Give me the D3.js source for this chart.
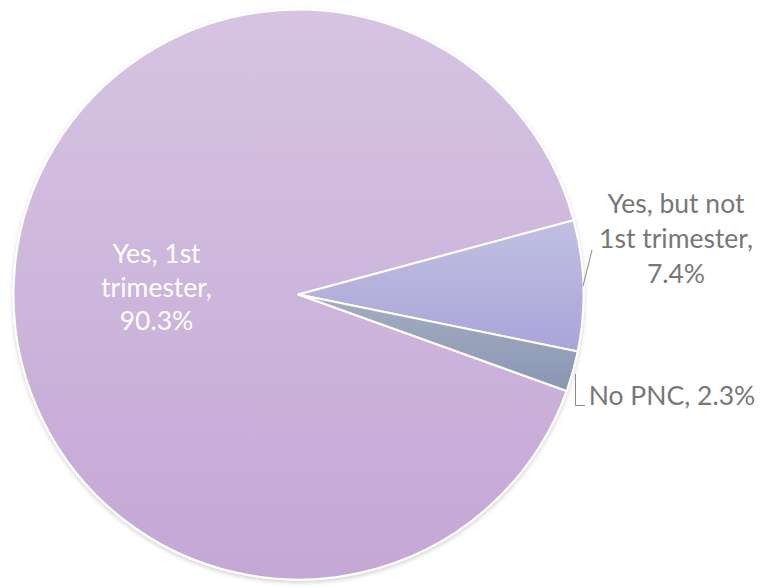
<!DOCTYPE html>
<html><head><meta charset="utf-8">
<script src="https://cdn.jsdelivr.net/npm/d3@7/dist/d3.min.js"></script>
<style>body{margin:0;background:#fff;}svg{display:block;}</style>
</head><body>
<svg id="chart" width="760" height="588"></svg>
<script>
const categories = ["Yes, 1st trimester", "Yes, but not 1st trimester", "No PNC"];
const values = [90.3, 7.4, 2.3];
const labelLines = [["Yes, 1st", "trimester,", "90.3%"], ["Yes, but not", "1st trimester,", "7.4%"], ["No PNC, 2.3%"]];
const colorsTop = ["#d6c4e2", "#c0c0e2", "#a4adc1"];
const colorsBottom = ["#c4a7d5", "#aaa4d9", "#8a96b3"];

const svg = d3.select("#chart");
const cx = 298.5, cy = 294.5, r = 285;
const start = 109.8 * Math.PI / 180;

const defs = svg.append("defs");
colorsTop.forEach((c, i) => {
  const g = defs.append("linearGradient").attr("id", "g" + i).attr("x1", 0).attr("y1", 0).attr("x2", 0).attr("y2", 1);
  g.append("stop").attr("offset", "0%").attr("stop-color", c);
  g.append("stop").attr("offset", "100%").attr("stop-color", colorsBottom[i]);
});
const f = defs.append("filter").attr("id", "sh").attr("x", "-10%").attr("y", "-10%").attr("width", "120%").attr("height", "120%");
f.append("feDropShadow").attr("dx", 0).attr("dy", 2).attr("stdDeviation", 2).attr("flood-color", "#000").attr("flood-opacity", 0.18);

const pie = d3.pie().sort(null).value(d => d).startAngle(start).endAngle(start + 2 * Math.PI);
const arcs = pie(values);
const arc = d3.arc().innerRadius(0).outerRadius(r);

const g = svg.append("g").attr("transform", `translate(${cx},${cy})`);
g.append("g").attr("filter", "url(#sh)").selectAll("path").data(arcs).join("path")
  .attr("d", arc).attr("fill", (d, i) => `url(#g${i})`)
  .attr("stroke", "#fff").attr("stroke-width", 2).attr("stroke-linejoin", "round");

// labels
const font = "Lato, 'Open Sans', sans-serif";
const fs = 26.5;
const labelPos = [[156.5, 263, 33.5], [676, 213, 35], [672, 405, 0]];
const labelColors = ["#ffffff", "#777777", "#777777"];
labelLines.forEach((lines, i) => {
  const t = svg.append("text").attr("text-anchor", "middle").attr("font-family", font)
    .attr("font-size", fs).attr("fill", labelColors[i]);
  lines.forEach((l, j) => {
    t.append("tspan").attr("x", labelPos[i][0]).attr("y", labelPos[i][1] + j * labelPos[i][2]).text(l);
  });
});

// leader lines
svg.append("path").attr("d", "M592,250L583,286").attr("stroke", "#8a8a8a").attr("stroke-width", 1).attr("fill", "none");
svg.append("path").attr("d", "M575.5,374L575.5,405.5L585,405.5").attr("stroke", "#8a8a8a").attr("stroke-width", 1).attr("fill", "none");
</script>
</body></html>
